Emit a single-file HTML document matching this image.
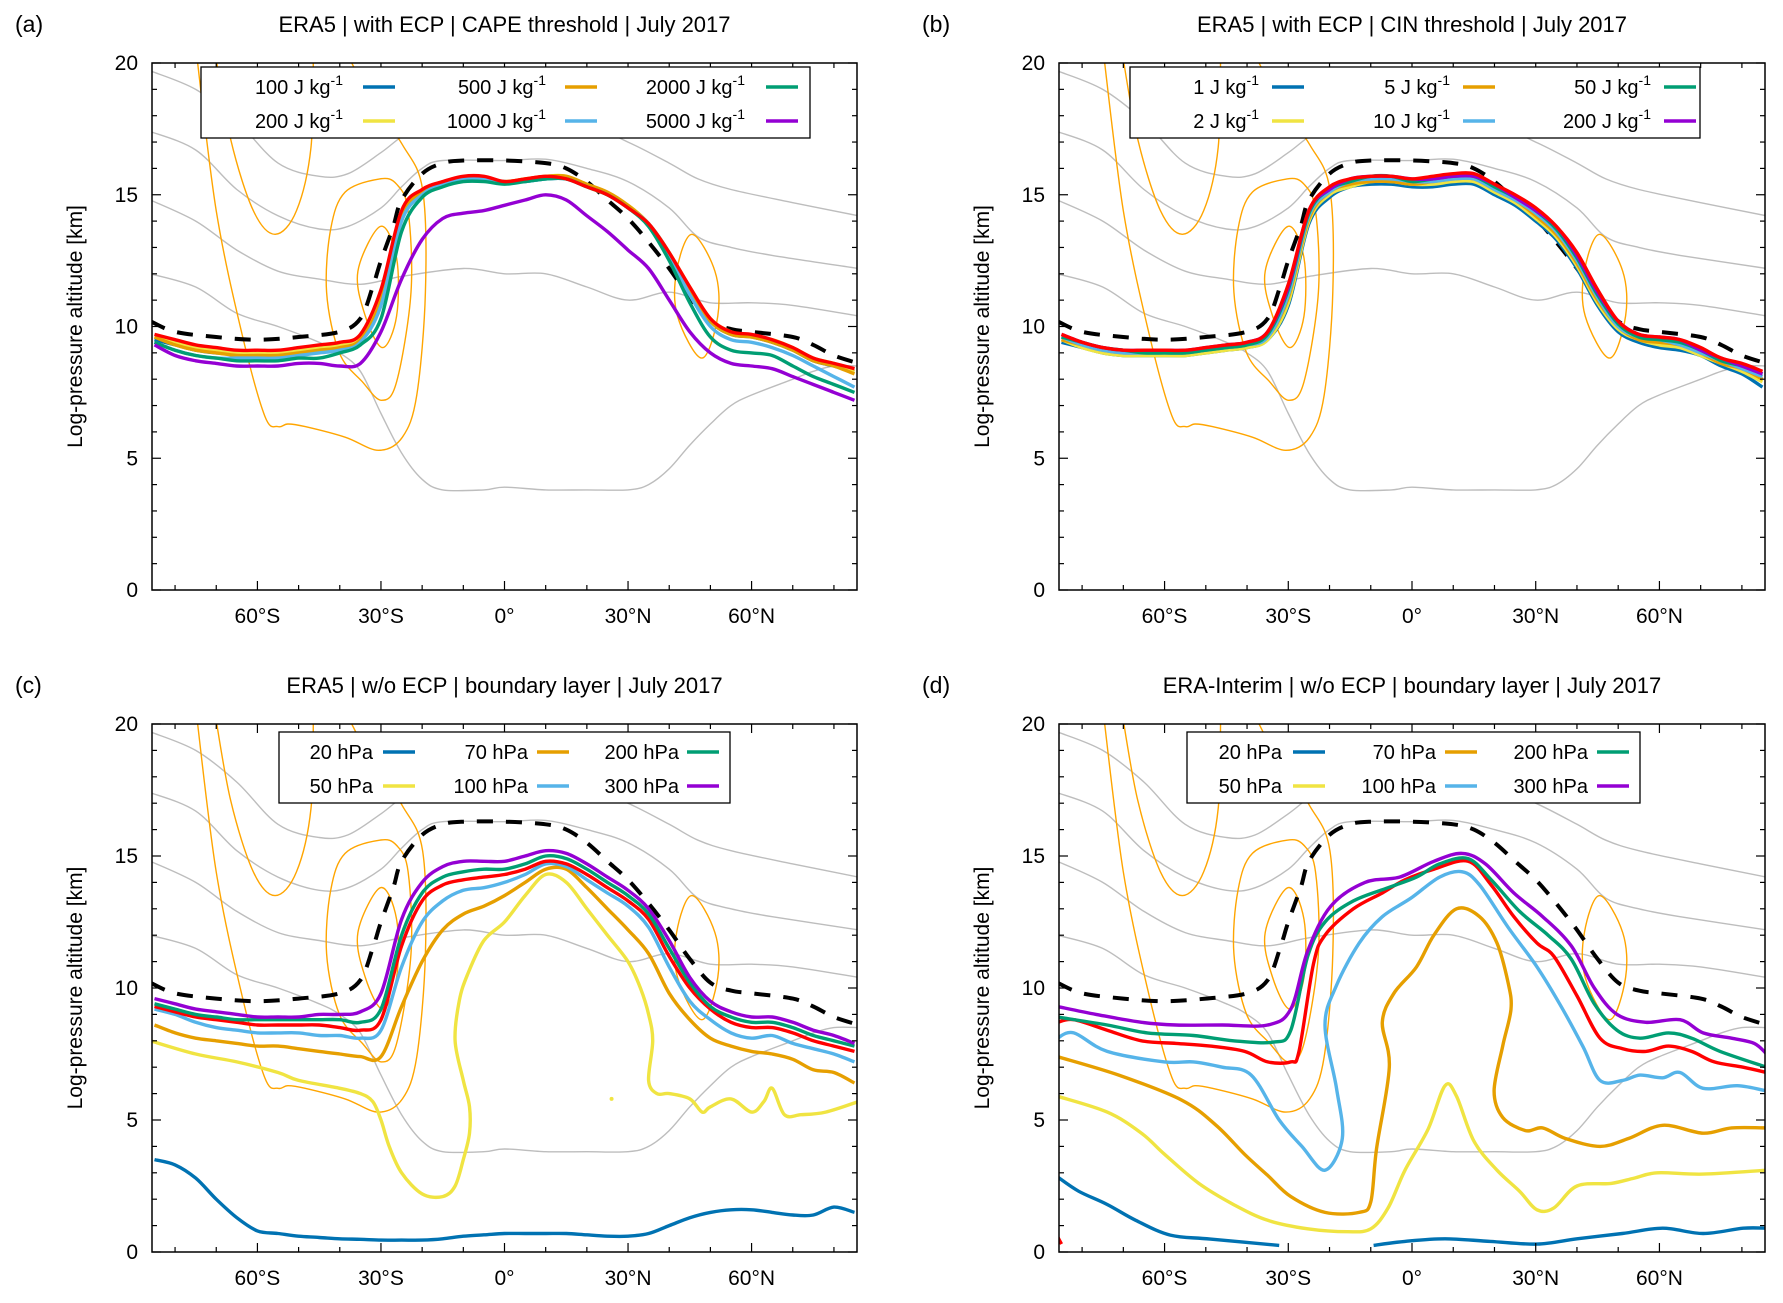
<!DOCTYPE html>
<html><head><meta charset="utf-8"><style>
html,body{margin:0;padding:0;background:#fff;}
svg{display:block;font-family:"Liberation Sans",sans-serif;}
</style></head><body>
<svg id="chart" width="1783" height="1303" viewBox="0 0 1783 1303"></svg>
<script>
const LATS=[-85,-80,-75,-70,-65,-60,-55,-50,-45,-40,-35,-30,-25,-20,-15,-10,-5,0,5,10,15,20,25,30,35,40,45,50,55,60,65,70,75,80,85];
const xTickLabels=["60°S","30°S","0°","30°N","60°N"];
const xTickVals=[-60,-30,0,30,60];
const yTickVals=[0,5,10,15,20];
const tropopause=[[-86,10.2],[-80,9.8],[-70,9.6],[-60,9.5],[-50,9.6],[-40,9.8],[-35,10.3],[-32,11.5],[-30,12.5],[-27,13.8],[-25,14.8],[-20,15.8],[-15,16.2],[-10,16.3],[0,16.3],[10,16.2],[15,16.0],[20,15.5],[25,14.8],[30,14.1],[35,13.2],[40,12.2],[45,11.1],[50,10.2],[55,9.9],[60,9.8],[70,9.6],[75,9.3],[80,8.9],[86,8.6]];
const gray1=[[-86,19.7],[-75,19.0],[-65,17.8],[-55,16.2],[-45,15.7],[-38,15.8],[-30,16.6],[-25,17.2],[-20,17.6],[0,17.8],[20,17.6],[30,17.0],[40,16.2],[47,15.6],[55,15.2],[70,14.7],[86,14.2]];
const gray2=[[-86,17.4],[-75,16.7],[-65,15.2],[-55,14.2],[-45,13.7],[-38,13.8],[-30,14.5],[-25,15.3],[-20,16.0],[-15,16.3],[0,16.3],[10,16.35],[20,16.0],[30,15.5],[40,14.5],[47,13.4],[55,13.0],[65,12.7],[86,12.2]];
const gray3=[[-86,14.8],[-75,14.0],[-65,12.9],[-55,12.1],[-45,11.8],[-35,11.6],[-25,11.9],[-10,12.2],[0,12.0],[10,12.0],[20,11.5],[30,11.0],[40,11.3],[50,10.9],[60,10.9],[70,10.8],[86,10.4]];
const gray4=[[-86,12.0],[-75,11.5],[-65,10.5],[-55,10.0],[-45,9.4],[-40,9.0],[-35,8.3],[-30,6.7],[-25,5.2],[-20,4.2],[-15,3.8],[-5,3.8],[0,3.9],[10,3.8],[20,3.8],[30,3.8],[35,4.0],[40,4.6],[45,5.5],[50,6.3],[55,7.0],[60,7.4],[70,8.0],[75,8.3],[80,8.5],[86,8.5]];
const orangeU=[[-70.4,20.5],[-66.5,17.1],[-61,14.4],[-55.7,13.5],[-50.5,14.4],[-47,16.8],[-46.4,20.5]];
const orangeBig=[[-74.9,20.5],[-70,14.4],[-63.8,9.75],[-58.2,6.6],[-55,6.2],[-52.6,6.3],[-48.4,6.2],[-38.7,5.8],[-30.6,5.3],[-24.8,5.8],[-21.3,7.4],[-19.2,11.3],[-19.9,15.2],[-24.8,16.9],[-32,18.5],[-38.7,20.5]];
const orangeMid=[[-30.3,15.6],[-38.7,15.1],[-42.2,13.7],[-43.2,11.3],[-40.1,9.0],[-34.5,7.9],[-29.9,7.2],[-26.2,7.9],[-22.7,11.3],[-23.4,14.4],[-26.2,15.4]];
const orangeSmall=[[-30.1,13.8],[-26.2,12.6],[-26.2,10.4],[-29.6,9.2],[-33.8,10.4],[-35.6,12.1]];
const orangeRight=[[45.5,13.5],[51.1,12.1],[51.8,10.4],[47.9,8.8],[42,10.4],[41.8,12.1]];
const aBlue=[9.5,9.3,9.1,9.0,9.0,9.0,9.0,9.1,9.2,9.3,9.6,11.2,14.3,15.1,15.4,15.6,15.6,15.5,15.5,15.6,15.6,15.3,15.0,14.5,13.9,12.8,11.4,10.2,9.7,9.6,9.4,9.1,8.7,8.5,8.3];
const aYellow=[9.6,9.4,9.2,9.1,9.0,9.0,9.0,9.1,9.2,9.3,9.6,11.2,14.3,15.1,15.5,15.6,15.6,15.5,15.6,15.7,15.7,15.3,15.0,14.6,13.9,12.8,11.5,10.3,9.8,9.6,9.5,9.2,8.8,8.6,8.3];
const aOrange=[9.6,9.3,9.1,9.0,8.9,8.9,8.9,9.0,9.1,9.2,9.5,11.0,14.2,15.1,15.4,15.6,15.6,15.5,15.6,15.7,15.7,15.4,15.1,14.6,13.9,12.8,11.4,10.2,9.7,9.6,9.4,9.1,8.7,8.5,8.2];
const aLight=[9.4,9.1,8.9,8.8,8.8,8.8,8.8,8.9,9.0,9.1,9.4,10.8,14.0,15.0,15.4,15.6,15.6,15.5,15.5,15.6,15.6,15.3,15.0,14.5,13.9,12.7,11.2,10.0,9.5,9.4,9.2,8.9,8.5,8.1,7.7];
const aGreen=[9.4,9.1,8.9,8.8,8.7,8.7,8.7,8.8,8.8,9.0,9.3,10.3,13.6,14.9,15.3,15.5,15.5,15.4,15.5,15.6,15.6,15.3,15.0,14.5,13.8,12.5,10.9,9.6,9.1,9.0,8.9,8.5,8.1,7.8,7.5];
const aPurple=[9.3,8.9,8.7,8.6,8.5,8.5,8.5,8.6,8.6,8.5,8.6,9.8,11.8,13.3,14.1,14.3,14.4,14.6,14.8,15.0,14.8,14.2,13.6,12.9,12.2,11.0,9.8,9.0,8.6,8.5,8.4,8.1,7.8,7.5,7.2];
const aRed=[9.7,9.5,9.3,9.2,9.1,9.1,9.1,9.2,9.3,9.4,9.7,11.4,14.4,15.2,15.5,15.7,15.7,15.5,15.6,15.7,15.6,15.3,15.0,14.5,13.9,12.8,11.5,10.3,9.8,9.7,9.5,9.2,8.8,8.6,8.4];
const bBlue=[9.4,9.2,9.0,8.9,8.9,8.9,8.9,9.0,9.1,9.2,9.5,10.8,13.9,14.9,15.3,15.4,15.4,15.3,15.3,15.4,15.4,15.0,14.6,14.0,13.3,12.2,10.8,9.8,9.4,9.2,9.1,8.9,8.5,8.2,7.7];
const bYellow=[9.5,9.2,9.0,8.9,8.9,8.9,8.9,9.0,9.1,9.2,9.5,10.9,14.0,15.0,15.3,15.5,15.5,15.4,15.4,15.5,15.5,15.1,14.7,14.1,13.4,12.3,10.9,9.9,9.5,9.3,9.2,8.9,8.6,8.3,7.9];
const bOrange=[9.5,9.3,9.1,9.0,9.0,9.0,9.0,9.1,9.2,9.3,9.6,11.1,14.1,15.1,15.4,15.5,15.5,15.4,15.5,15.6,15.6,15.2,14.8,14.2,13.5,12.4,11.0,10.0,9.5,9.4,9.3,9.0,8.6,8.4,8.0];
const bLight=[9.6,9.3,9.1,9.0,9.0,9.0,9.0,9.1,9.2,9.3,9.6,11.2,14.2,15.1,15.5,15.6,15.6,15.5,15.5,15.6,15.6,15.2,14.8,14.3,13.6,12.5,11.1,10.0,9.6,9.5,9.3,9.0,8.7,8.4,8.1];
const bGreen=[9.6,9.4,9.2,9.1,9.0,9.0,9.0,9.1,9.2,9.3,9.7,11.4,14.3,15.2,15.5,15.7,15.7,15.5,15.6,15.7,15.7,15.3,14.9,14.4,13.7,12.6,11.2,10.1,9.6,9.5,9.4,9.1,8.7,8.5,8.2];
const bPurple=[9.7,9.4,9.2,9.1,9.1,9.1,9.1,9.2,9.3,9.4,9.8,11.5,14.4,15.2,15.6,15.7,15.7,15.6,15.6,15.7,15.7,15.4,14.9,14.4,13.8,12.7,11.3,10.2,9.7,9.6,9.5,9.1,8.8,8.5,8.2];
const bRed=[9.7,9.4,9.2,9.1,9.1,9.1,9.1,9.2,9.3,9.4,9.8,11.6,14.4,15.3,15.6,15.7,15.7,15.6,15.7,15.8,15.8,15.4,15.0,14.5,13.8,12.8,11.4,10.2,9.7,9.6,9.5,9.2,8.8,8.6,8.3];
const cBlue=[3.5,3.3,2.8,2.0,1.3,0.8,0.7,0.6,0.55,0.5,0.48,0.45,0.45,0.45,0.5,0.6,0.65,0.7,0.7,0.7,0.7,0.65,0.6,0.6,0.7,1.0,1.3,1.5,1.6,1.6,1.5,1.4,1.4,1.7,1.5];
const cYellow=[[-86,8.0],[-75,7.5],[-65,7.2],[-55,6.8],[-50,6.5],[-40,6.2],[-35,6.0],[-32,5.7],[-30,5.0],[-28,4.0],[-25,3.0],[-20,2.2],[-15,2.1],[-12,2.5],[-10,3.5],[-8.5,4.5],[-8.5,5.5],[-10,6.5],[-12,8.0],[-11,9.5],[-9,10.5],[-5,11.8],[0,12.5],[5,13.5],[10,14.3],[15,14.0],[20,13.0],[25,12.0],[30,11.0],[33,10.0],[35,9.0],[36,8.0],[35,6.5],[37,6.0],[40,6.0],[45,5.8],[48,5.3],[50,5.5],[55,5.8],[60,5.3],[63,5.7],[65,6.2],[68,5.2],[72,5.2],[78,5.3],[86,5.7]];
const cOrange=[8.6,8.3,8.1,8.0,7.9,7.8,7.8,7.7,7.6,7.5,7.4,7.4,9.3,11.0,12.2,12.8,13.1,13.5,14.0,14.5,14.5,13.8,13.0,12.2,11.3,9.8,8.8,8.1,7.8,7.6,7.5,7.3,6.9,6.8,6.4];
const cLight=[9.2,9.0,8.7,8.5,8.4,8.3,8.3,8.3,8.2,8.2,8.1,8.4,10.8,12.5,13.3,13.7,13.8,14.0,14.3,14.7,14.6,14.1,13.6,13.1,12.3,10.8,9.5,8.8,8.3,8.1,8.2,7.9,7.7,7.5,7.2];
const cRed=[9.3,9.1,8.9,8.8,8.7,8.6,8.6,8.6,8.6,8.5,8.4,8.8,11.6,13.3,13.9,14.1,14.2,14.3,14.5,14.8,14.7,14.3,13.8,13.3,12.6,11.2,10.0,9.2,8.7,8.5,8.5,8.3,8.0,7.8,7.6];
const cGreen=[9.4,9.2,9.0,8.9,8.8,8.8,8.8,8.8,8.8,8.8,8.7,9.2,12.0,13.6,14.2,14.4,14.5,14.5,14.7,15.0,14.9,14.5,14.0,13.5,12.8,11.5,10.2,9.3,8.9,8.7,8.7,8.5,8.2,8.0,7.8];
const cPurple=[9.6,9.4,9.2,9.1,9.0,8.9,8.9,8.9,9.0,9.0,9.1,9.8,12.6,14.0,14.6,14.8,14.8,14.8,15.0,15.2,15.1,14.7,14.2,13.7,13.0,11.8,10.4,9.5,9.1,8.9,8.9,8.7,8.4,8.2,7.9];
const dBlue1=[[-86,2.85],[-80.8,2.3],[-73.9,1.8],[-67,1.2],[-58.6,0.64],[-48.9,0.49],[-32.2,0.25]];
const dBlue2=[[-9.3,0.25],[-1.7,0.4],[8,0.5],[19,0.4],[30.3,0.3],[40,0.5],[51,0.7],[60.8,0.9],[70.6,0.7],[80.3,0.9],[86,0.9]];
const dYellow=[[-86,5.9],[-73.9,5.3],[-65.6,4.5],[-60,3.7],[-51.7,2.6],[-43.3,1.8],[-35,1.2],[-25.3,0.88],[-15.6,0.77],[-10,0.88],[-5.8,1.67],[-1.7,3.1],[3.9,4.65],[8,6.3],[10.8,5.9],[15,4.2],[20.6,3.1],[26.1,2.3],[30.3,1.6],[34.4,1.67],[40,2.5],[48.3,2.6],[53.9,2.8],[59.5,3.0],[70.6,2.95],[86,3.1]];
const dOrange=[[-86,7.4],[-71.1,6.7],[-55.8,5.75],[-47.5,4.8],[-40.6,3.7],[-35,2.9],[-29.4,2.1],[-21.1,1.5],[-12.8,1.5],[-10,1.9],[-8.6,3.9],[-5.5,7.0],[-7.2,8.7],[-4.4,9.8],[1.1,10.8],[5.3,12.0],[10.8,13.0],[16.4,12.7],[20.6,11.7],[23.3,10.2],[24,9.2],[22,7.8],[19.9,6.1],[22,5.1],[27.5,4.6],[31.7,4.7],[37.2,4.3],[45.6,4.0],[52.5,4.3],[60.8,4.8],[70.6,4.5],[77.5,4.7],[86,4.7]];
const dLight=[[-86,8.1],[-82,8.3],[-73.9,7.6],[-60,7.2],[-53,7.2],[-46,7.0],[-39,6.7],[-32.2,5.0],[-26.7,4.0],[-21.1,3.1],[-16.9,4.3],[-18.3,6.2],[-21.1,8.6],[-18.3,10.1],[-12.8,11.7],[-7.2,12.7],[-0.3,13.4],[6.7,14.2],[12.2,14.4],[16.4,13.9],[23.3,12.3],[30.3,10.8],[35.8,9.4],[41.4,7.8],[45.6,6.5],[51.1,6.5],[55.3,6.7],[60.8,6.6],[65,6.8],[70.6,6.2],[78.9,6.3],[86,6.1]];
const dRed=[[-86,8.7],[-82,8.8],[-73.9,8.4],[-65.6,8.0],[-57.2,7.9],[-48.9,7.8],[-40.6,7.6],[-35,7.2],[-29.4,7.2],[-27.4,7.6],[-23.9,10.9],[-21.1,12.0],[-14.2,13.0],[-7.2,13.6],[-1.7,14.1],[5.3,14.5],[13.6,14.8],[19.2,13.9],[24.7,12.7],[30.3,11.7],[34.4,11.2],[40,9.7],[45.6,8.1],[51.1,7.7],[56.7,7.6],[62.2,7.8],[67.8,7.6],[73.3,7.2],[80.3,7.0],[86,6.8]];
const dRedTail=[[-86,0.6],[-85,0.3]];
const dGreen=[[-86,8.9],[-73.9,8.6],[-64.2,8.3],[-53,8.2],[-43.3,8.0],[-33.6,7.95],[-29.4,8.4],[-25.3,11.2],[-21.1,12.5],[-14.2,13.3],[-5.8,13.8],[1.1,14.2],[6.7,14.7],[13.6,14.9],[19.2,14.1],[26.1,12.9],[33,12.0],[38.6,11.1],[44.2,9.4],[49.7,8.4],[55.3,8.1],[62.2,8.3],[67.8,8.1],[74.7,7.6],[86,7.0]];
const dPurple=[[-86,9.3],[-76.6,9.0],[-65.6,8.7],[-57.2,8.6],[-46,8.6],[-35,8.6],[-29.4,9.2],[-25.3,11.4],[-19.7,13.1],[-11.4,14.0],[-3,14.2],[5.3,14.8],[12.2,15.1],[17.8,14.7],[24.7,13.6],[31.7,12.7],[38.6,11.6],[44.2,10.0],[49.7,9.0],[56.7,8.7],[65,8.8],[70.6,8.3],[77.5,8.1],[83,7.9],[86,7.5]];

const C={blue:"#0072B2",yellow:"#F0E442",orange:"#E69F00",light:"#56B4E9",green:"#009E73",purple:"#9400D3",red:"#FF0000"};
const NS="http://www.w3.org/2000/svg";
const svg=document.getElementById("chart");
function mk(tag,attrs,parent){const e=document.createElementNS(NS,tag);for(const k in attrs)e.setAttribute(k,attrs[k]);(parent||svg).appendChild(e);return e;}
function zip(vals){return LATS.map((l,i)=>[l,vals[i]]);}
function pathD(pts,sx,sy,closed){
  const P=pts.map(p=>[sx(p[0]),sy(p[1])]);const n=P.length;
  const get=i=>closed?P[(i+n)%n]:P[Math.max(0,Math.min(n-1,i))];
  let d="M"+P[0][0].toFixed(1)+","+P[0][1].toFixed(1);
  const m=closed?n:n-1;
  for(let i=0;i<m;i++){const p0=get(i-1),p1=get(i),p2=get(i+1),p3=get(i+2);
    const c1=[p1[0]+(p2[0]-p0[0])/6,p1[1]+(p2[1]-p0[1])/6],c2=[p2[0]-(p3[0]-p1[0])/6,p2[1]-(p3[1]-p1[1])/6];
    d+=" C"+c1[0].toFixed(1)+","+c1[1].toFixed(1)+" "+c2[0].toFixed(1)+","+c2[1].toFixed(1)+" "+p2[0].toFixed(1)+","+p2[1].toFixed(1);}
  return d+(closed?"Z":"");
}
const LATMIN=-85.6,LATMAX=85.6;
const panels=[
 {id:"a",L:152,R:857,T:63,B:590,title:"ERA5 | with ECP | CAPE threshold | July 2017",
  series:[["100",C.blue,aBlue],["200",C.yellow,aYellow],["500",C.orange,aOrange],["1000",C.light,aLight],["2000",C.green,aGreen],["5000",C.purple,aPurple],["red",C.red,aRed]],
  leg:{x1:201,x2:810,y1:67,y2:138,unit:" J kg",items:[["100",C.blue],["200",C.yellow],["500",C.orange],["1000",C.light],["2000",C.green],["5000",C.purple]],tx:[343,546,745],lx:[363,565,766]}},
 {id:"b",L:1059,R:1765,T:63,B:590,title:"ERA5 | with ECP | CIN threshold | July 2017",
  series:[["1",C.blue,bBlue],["2",C.yellow,bYellow],["5",C.orange,bOrange],["10",C.light,bLight],["50",C.green,bGreen],["200",C.purple,bPurple],["red",C.red,bRed]],
  leg:{x1:1130,x2:1700,y1:67,y2:138,unit:" J kg",items:[["1",C.blue],["2",C.yellow],["5",C.orange],["10",C.light],["50",C.green],["200",C.purple]],tx:[1259,1450,1651],lx:[1272,1463,1664]}},
 {id:"c",L:152,R:857,T:724,B:1252,title:"ERA5 | w/o ECP | boundary layer | July 2017",
  series:[["20",C.blue,cBlue],["50",C.yellow,cYellow,true],["70",C.orange,cOrange],["100",C.light,cLight],["red",C.red,cRed],["200",C.green,cGreen],["300",C.purple,cPurple]],
  leg:{x1:279,x2:730,y1:732,y2:803,unit:" hPa",items:[["20",C.blue],["50",C.yellow],["70",C.orange],["100",C.light],["200",C.green],["300",C.purple]],tx:[373,528,679],lx:[383,537,687]}},
 {id:"d",L:1059,R:1765,T:724,B:1252,title:"ERA-Interim | w/o ECP | boundary layer | July 2017",
  series:[["20a",C.blue,dBlue1,true],["20b",C.blue,dBlue2,true],["50",C.yellow,dYellow,true],["70",C.orange,dOrange,true],["100",C.light,dLight,true],["red",C.red,dRed,true],["redtail",C.red,dRedTail,true],["200",C.green,dGreen,true],["300",C.purple,dPurple,true]],
  leg:{x1:1187,x2:1640,y1:732,y2:803,unit:" hPa",items:[["20",C.blue],["50",C.yellow],["70",C.orange],["100",C.light],["200",C.green],["300",C.purple]],tx:[1282,1436,1588],lx:[1293,1445,1597]}}
];

panels.forEach(p=>{
  const g=mk("g",{});
  
  
  const sx=v=>p.L+(v-LATMIN)/(LATMAX-LATMIN)*(p.R-p.L);
  const sy=v=>p.B-v/20*(p.B-p.T);
  const cid="clip"+p.id;
  const cp=mk("clipPath",{id:cid},g);mk("rect",{x:p.L,y:p.T,width:p.R-p.L,height:p.B-p.T},cp);
  const pl=mk("g",{"clip-path":"url(#"+cid+")"},g);
  
  
  [gray1,gray2,gray3,gray4].forEach((s,i)=>{const e=mk("path",{d:pathD(s,sx,sy,false),fill:"none",stroke:"#bdbdbd","stroke-width":1.4},pl);
    
    });
  [[orangeU,false],[orangeBig,false],[orangeMid,true],[orangeSmall,true],[orangeRight,true]].forEach((s,i)=>{const e=mk("path",{d:pathD(s[0],sx,sy,s[1]),fill:"none",stroke:"#FFA500","stroke-width":1.4},pl);
    
    });
  const tp=mk("path",{d:pathD(tropopause,sx,sy,false),fill:"none",stroke:"#000","stroke-width":4,"stroke-dasharray":"16 13"},pl);
  
  
  p.series.forEach(s=>{const pts=s[3]?s[2]:zip(s[2]);
    const e=mk("path",{d:pathD(pts,sx,sy,false),fill:"none",stroke:s[1],"stroke-width":3.4,"stroke-linejoin":"round"},pl);
    
    });
  if(p.id==="c"){const dt=mk("circle",{cx:sx(26),cy:sy(5.8),r:2,fill:C.yellow},pl);
    
    }
  const fr=mk("rect",{x:p.L,y:p.T,width:p.R-p.L,height:p.B-p.T,fill:"none",stroke:"#000","stroke-width":1.5},g);
  
  
  for(let v=0;v<=20;v++){const maj=v%5===0,len=maj?9:5,y=sy(v);
    mk("line",{x1:p.L,x2:p.L+len,y1:y,y2:y,stroke:"#000","stroke-width":1.2},g);
    mk("line",{x1:p.R,x2:p.R-len,y1:y,y2:y,stroke:"#000","stroke-width":1.2},g);}
  for(let v=-80;v<=80;v+=10){const maj=v%30===0,len=maj?9:5,x=sx(v);
    mk("line",{x1:x,x2:x,y1:p.B,y2:p.B-len,stroke:"#000","stroke-width":1.2},g);
    mk("line",{x1:x,x2:x,y1:p.T,y2:p.T+len,stroke:"#000","stroke-width":1.2},g);}
  yTickVals.forEach(v=>{const t=mk("text",{x:p.L-14,y:sy(v)+7,"text-anchor":"end","font-size":21},g);t.textContent=v;
    
    });
  xTickVals.forEach((v,i)=>{const t=mk("text",{x:sx(v),y:p.B+33,"text-anchor":"middle","font-size":21},g);t.textContent=xTickLabels[i];
    
    });
  const yl=mk("text",{x:0,y:0,transform:"translate("+(p.L-70)+","+((p.T+p.B)/2)+") rotate(-90)","text-anchor":"middle","font-size":21},g);
  yl.textContent="Log-pressure altitude [km]";
  
  
  const ti=mk("text",{x:(p.L+p.R)/2,y:p.T-31,"text-anchor":"middle","font-size":22},g);ti.textContent=p.title;
  
  
  const lb=mk("text",{x:p.L-137,y:p.T-31,"font-size":23},g);lb.textContent="("+p.id+")";
  
  
  const L=p.leg;const lg=mk("g",{},g);
  
  
  mk("rect",{x:L.x1,y:L.y1,width:L.x2-L.x1,height:L.y2-L.y1,fill:"#fff",stroke:"#000","stroke-width":1.3},lg);
  L.items.forEach((it,i)=>{const col=Math.floor(i/2),row=i%2;const y=L.y1+(row===0?20:54);
    const t=mk("text",{x:L.tx[col],y:y+7,"text-anchor":"end","font-size":20},lg);
    
    
    t.appendChild(document.createTextNode(it[0]+L.unit));
    if(L.unit.indexOf("J")>=0){const s=mk("tspan",{"font-size":14,dy:-9},t);s.textContent="-1";}
    mk("line",{x1:L.lx[col],x2:L.lx[col]+32,y1:y,y2:y,stroke:it[1],"stroke-width":3.6},lg);});
});
</script>
</body></html>
